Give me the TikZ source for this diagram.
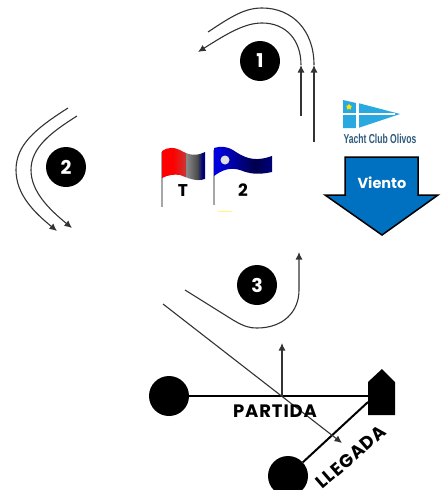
\documentclass[tikz,border=0pt]{standalone}
\usepackage{fontspec}
\setmainfont{Poppins}
\newfontfamily\logofont{Liberation Sans}
\usetikzlibrary{arrows.meta,shapes.geometric}
\pgfdeclarehorizontalshading{flagT}{100bp}{color(0bp)=(red); color(38bp)=(red); color(52bp)=(red!60!gray); color(53bp)=(gray!90); color(66bp)=(gray!60!black); color(72bp)=(blue!45!black); color(100bp)=(blue!90!black)}
\pgfdeclarehorizontalshading{flagTwo}{100bp}{color(0bp)=(blue); color(30bp)=(blue!85!black); color(60bp)=(blue!30!black); color(85bp)=(blue!60!black); color(100bp)=(blue!95!black)}
\definecolor{windblue}{HTML}{0070C0}
\definecolor{logoblue}{HTML}{29A9E0}
\definecolor{logotext}{HTML}{2F5C7E}
\tikzset{
  course/.style={draw=black!80,line width=1.1pt},
  tipped/.style={course,-{Latex[length=7.5pt,width=7pt]}},
  numdot/.style={circle,fill=black,minimum size=40pt,inner sep=0pt,text=white,font=\fontsize{19}{19}\selectfont\bfseries},
  buoy/.style={circle,fill=black,minimum size=40pt,inner sep=0pt},
  gate/.style={draw=black,line width=2pt},
  pole/.style={draw=gray!70,line width=1.4pt},
  flagtext/.style={font=\fontsize{17}{17}\selectfont\bfseries,inner sep=0pt},
  marktext/.style={font=\fontsize{18}{18}\selectfont\bfseries,inner sep=0pt},
}
\begin{document}
\begin{tikzpicture}[x=1pt,y=-1pt]
\useasboundingbox (0,0) rectangle (441,490);
\clip (0,0) rectangle (441,490);
% leg 1
\coordinate (a1) at (314,142); \coordinate (a2) at (314,65); \coordinate (a3) at (208,32);
\coordinate (b1) at (301,116); \coordinate (b2) at (301,65); \coordinate (b3) at (198,52);
\draw[course] (a2) .. controls (314,30) and (292,8) .. (262,8) .. controls (245,8) and (232,16) .. (a3);
\draw[tipped] (b2) .. controls (301,40) and (286,23) .. (262,23) .. controls (245,23) and (228,33) .. (b3);
\draw[tipped] (a1) -- (a2);
\draw[tipped] (b1) -- (b2);
\node[numdot] (n1) at (260,61) {1};
% leg 2
\coordinate (c1) at (68,108); \coordinate (c2) at (57,231);
\coordinate (d1) at (77,116); \coordinate (d2) at (72,228);
\draw[tipped] (c1) .. controls (35,129) and (16,145) .. (16,170) .. controls (16,195) and (35,213) .. (c2);
\draw[tipped] (d1) .. controls (50,133) and (31,148) .. (31,170) .. controls (31,192) and (50,210) .. (d2);
\node[numdot] (n2) at (66,167) {2};
% leg 3
\coordinate (e1) at (185,290); \coordinate (e2) at (299,252);
\draw[tipped] (e1) -- (233,320) .. controls (245,327) and (250,328) .. (257,328) .. controls (283,328) and (299,312) .. (299,290) -- (e2);
\node[numdot] (n3) at (257,285) {3};
% start / finish
\node[buoy] (pin) at (169,396) {};
\node[buoy] (fin) at (288,476) {};
\coordinate (boat) at (368,396);
\coordinate (boatb) at (368,402);
\draw[gate] (pin) -- (boat);
\draw[gate] (fin) -- (boatb);
\fill[black] (368,382) -- (382,369) -- (395,382) -- (395,415) -- (368,415) -- cycle;
\coordinate (s1) at (282,396); \coordinate (s2) at (282,343);
\draw[tipped] (s1) -- (s2);
\coordinate (f1) at (163,304); \coordinate (f2) at (342,443);
\draw[tipped] (f1) -- (f2);
\node[marktext] (partida) at (275,411) {\addfontfeatures{LetterSpace=5}PARTIDA};
\node[marktext,rotate=41] (llegada) at (351,457) {\addfontfeatures{LetterSpace=5}LLEGADA};
% flags
\draw[pole] (162,152) -- (162,207);
\shade[shading=flagT] (162,151) .. controls (168,147) and (174,147) .. (180,150) .. controls (190,156) and (197,156) .. (205,152) -- (205,179) .. controls (196,182) and (188,178) .. (180,175) .. controls (174,174) and (168,175) .. (162,178) -- cycle;
\draw[pole] (214,150) -- (214,205);
\shade[shading=flagTwo] (214,148) .. controls (220,146) and (228,146) .. (236,152) .. controls (248,160) and (258,161) .. (272,156) -- (272,172) .. controls (258,175) and (250,174) .. (240,170) .. controls (230,167) and (222,170) .. (214,176) -- cycle;
\fill[gray!25] (225,160) circle (4.5);
\node[flagtext] (flagT) at (183,191) {T};
\node[flagtext] (flag2) at (243,190) {2};
\draw[yellow!50,line width=1pt] (218,211) -- (232,211);
% logo
\fill[logoblue] (343,100) -- (356,103) -- (356,128) -- (343,128) -- cycle;
\fill[logoblue] (358,103) -- (400,114) -- (358,128) -- cycle;
\fill[white] (356,100) rectangle (358.5,129);
\fill[white] (343,113) -- (395,113) -- (395,115) -- (343,115) -- cycle;
\node[star,star points=5,fill=yellow!85!orange,minimum size=6pt,inner sep=0pt] (logostar) at (349,107) {};
\node[text=logotext,inner sep=0pt,font=\logofont\fontsize{13}{13}\selectfont\bfseries] (logotxt) at (380,139) {\scalebox{0.66}[1]{Yacht Club Olivos}};
% wind arrow
\filldraw[fill=windblue,draw=black,line width=1.5pt,line join=miter] (345,157) -- (418,157) -- (418,195) -- (438,195) -- (382,235) -- (325,195) -- (345,195) -- cycle;
\node[text=white,inner sep=0pt,font=\fontsize{14.5}{14.5}\selectfont\bfseries] (viento) at (382,183) {Viento};
\end{tikzpicture}
\end{document}
